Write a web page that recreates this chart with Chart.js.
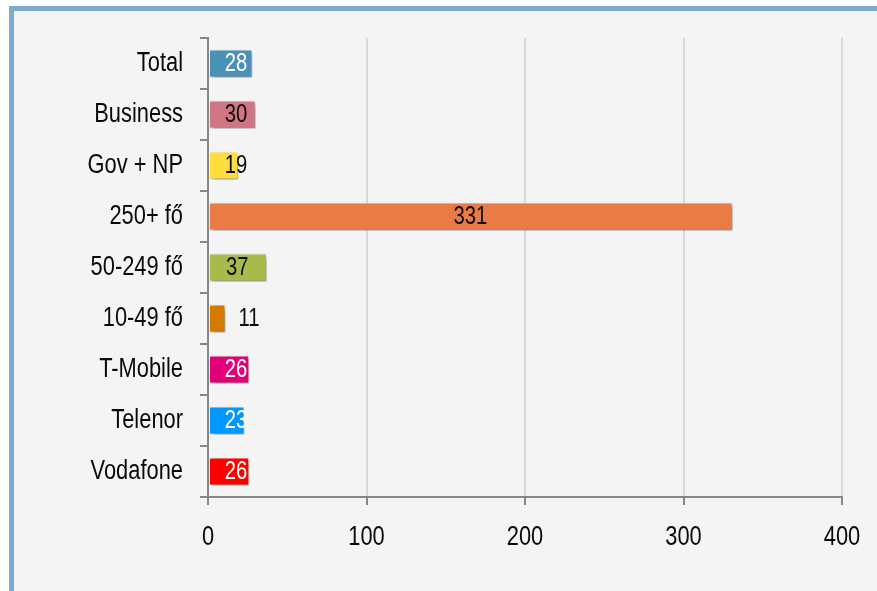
<!DOCTYPE html>
<html>
<head>
<meta charset="utf-8">
<script src="https://cdn.jsdelivr.net/npm/chart.js@4/dist/chart.umd.min.js"></script>
<style>
  html, body { margin: 0; padding: 0; background: #ffffff; width: 877px; height: 591px; overflow: hidden; }
  #frame { position: absolute; left: 9px; top: 6px; width: 868px; height: 585px; box-sizing: border-box;
           border-top: 5px solid #7eabcb; border-left: 5px solid #7eabcb; background: #f4f4f4; }
  #c { position: absolute; left: 0; top: 0; }
</style>
</head>
<body>
<div id="frame"></div>
<canvas id="c" width="877" height="591"></canvas>
<script>
const categories = ["Total", "Business", "Gov + NP", "250+ fő", "50-249 fő", "10-49 fő", "T-Mobile", "Telenor", "Vodafone"];
const values = [28, 30, 19, 331, 37, 11, 26, 23, 26];
const xTicks = [0, 100, 200, 300, 400];

const barColors = ["#4a91b9", "#d07584", "#ffdd3d", "#e97b47", "#a9ba4a", "#d37b00", "#e1007a", "#0098fe", "#fe0000"];
const labelColors = ["#ffffff", "#0d0d0d", "#0d0d0d", "#0d0d0d", "#0d0d0d", "#0d0d0d", "#ffffff", "#ffffff", "#ffffff"];

// Emulate a narrow face (Arial Narrow-like) by condensing Liberation Sans horizontally.
const NARROW = 0.81;
const FONT = "'Liberation Sans', Arial, sans-serif";
(function () {
  const P = CanvasRenderingContext2D.prototype;
  const origFill = P.fillText;
  const origMeasure = P.measureText;
  P.fillText = function (t, x, y) {
    this.save();
    this.translate(x, y);
    this.scale(NARROW, 1);
    origFill.call(this, t, 0, 0);
    this.restore();
  };
  P.measureText = function (t) {
    const m = origMeasure.call(this, t);
    return {
      width: m.width * NARROW,
      actualBoundingBoxAscent: m.actualBoundingBoxAscent,
      actualBoundingBoxDescent: m.actualBoundingBoxDescent,
      actualBoundingBoxLeft: m.actualBoundingBoxLeft * NARROW,
      actualBoundingBoxRight: m.actualBoundingBoxRight * NARROW,
      fontBoundingBoxAscent: m.fontBoundingBoxAscent,
      fontBoundingBoxDescent: m.fontBoundingBoxDescent
    };
  };
})();

const shadowPlugin = {
  id: 'shadow',
  beforeDatasetsDraw(chart) {
    const ctx = chart.ctx;
    ctx.save();
    ctx.shadowColor = 'rgba(0,0,0,0.45)';
    ctx.shadowBlur = 5;
    ctx.shadowOffsetX = 2;
    ctx.shadowOffsetY = 3;
  },
  afterDatasetsDraw(chart) {
    chart.ctx.restore();
  }
};

const labelPlugin = {
  id: 'barLabels',
  afterDraw(chart) {
    const ctx = chart.ctx;
    const meta = chart.getDatasetMeta(0);
    const xs = chart.scales.x;
    const x0 = xs.getPixelForValue(0);
    ctx.save();
    ctx.font = "25px " + FONT;
    ctx.textBaseline = 'middle';
    meta.data.forEach((bar, i) => {
      const v = values[i];
      const end = xs.getPixelForValue(v);
      ctx.fillStyle = labelColors[i];
      if (v < 15) {
        ctx.textAlign = 'left';
        ctx.fillText(String(v), end + 13, bar.y + 1);
      } else {
        ctx.textAlign = 'center';
        const cx = Math.max((x0 + end) / 2, x0 + 28);
        ctx.fillText(String(v), cx, bar.y + 1);
      }
    });
    ctx.restore();
  }
};

new Chart(document.getElementById('c'), {
  type: 'bar',
  data: {
    labels: categories,
    datasets: [{
      data: values,
      backgroundColor: barColors,
      borderColor: 'rgba(255,255,255,0.9)',
      borderWidth: 1,
      borderSkipped: false,
      barPercentage: 0.55,
      categoryPercentage: 1.0
    }]
  },
  options: {
    indexAxis: 'y',
    responsive: false,
    animation: false,
    devicePixelRatio: 1,
    layout: { padding: { top: 38, right: 35, left: 0, bottom: 0 } },
    plugins: { legend: { display: false }, tooltip: { enabled: false } },
    scales: {
      x: {
        type: 'linear',
        min: 0,
        max: 400,
        afterBuildTicks(scale) { scale.ticks = xTicks.map(v => ({ value: v })); },
        afterFit(scale) { scale.height = 94; },
        grid: {
          color: (c) => c.index === 0 ? 'rgba(0,0,0,0)' : '#d9d9d9',
          lineWidth: 2,
          tickColor: '#878787',
          tickLength: 8,
          drawTicks: true
        },
        border: { display: true, color: '#878787', width: 2 },
        ticks: { color: '#0a0a0a', font: { family: FONT, size: 27 }, padding: 16 }
      },
      y: {
        afterFit(scale) { scale.width = 208; },
        grid: {
          drawOnChartArea: false,
          drawTicks: true,
          tickLength: 8,
          tickColor: '#878787',
          lineWidth: 2,
          offset: true
        },
        border: { display: true, color: '#878787', width: 2 },
        ticks: { color: '#0a0a0a', font: { family: FONT, size: 27 }, padding: 17 }
      }
    }
  },
  plugins: [shadowPlugin, labelPlugin]
});
</script>
</body>
</html>
